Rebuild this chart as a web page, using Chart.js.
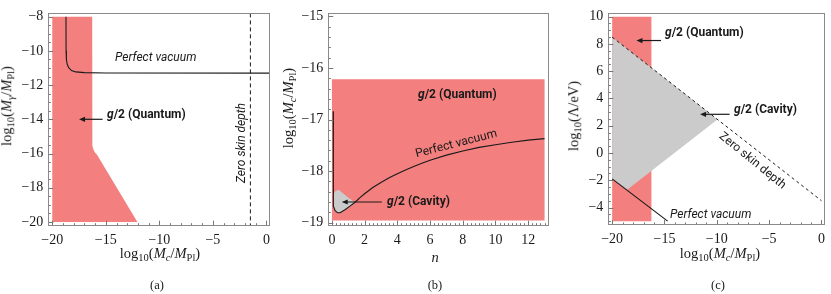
<!DOCTYPE html>
<html><head><meta charset="utf-8">
<script src="https://cdn.jsdelivr.net/npm/chart.js@4.4.1/dist/chart.umd.min.js"></script>
<style>
html,body{margin:0;padding:0;background:#fff;}
#wrap{position:relative;width:831px;height:294px;overflow:hidden;background:#fff;}
canvas{position:absolute;left:0;top:0;}
.t{position:absolute;white-space:nowrap;font-family:Roboto,"Noto Sans",sans-serif;font-size:12px;color:#1a1a1a;line-height:1;}
.lab{position:absolute;white-space:nowrap;font-family:"Liberation Serif","DejaVu Serif",serif;font-size:14.5px;color:#1a1a1a;line-height:1;}
.lab sub{font-size:10.5px;vertical-align:-3px;}
</style></head>
<body><div id="wrap">
<canvas id="ca" width="831" height="294"></canvas>
<canvas id="cb" width="831" height="294"></canvas>
<canvas id="cc" width="831" height="294"></canvas>

<!-- panel (a) texts -->
<div class="t" style="left:115px;top:57px;transform:translateY(-50%);font-style:italic;">Perfect vacuum</div>
<div class="t" style="left:107px;top:114px;transform:translateY(-50%);font-weight:bold;"><i>g</i>/2 (Quantum)</div>
<div class="t" style="left:241px;top:143px;transform:translate(-50%,-50%) rotate(-90deg);font-style:italic;">Zero skin depth</div>
<div class="lab" style="left:8px;top:106px;transform:translate(-50%,-50%) rotate(-90deg);">log<sub>10</sub>(<i>M</i><sub><i>γ</i></sub>/<i>M</i><sub>Pl</sub>)</div>
<div class="lab" style="left:160px;top:255px;transform:translate(-50%,-50%);">log<sub>10</sub>(<i>M</i><sub><i>c</i></sub>/<i>M</i><sub>Pl</sub>)</div>
<div class="lab" style="left:157px;top:285px;transform:translate(-50%,-50%);font-size:12.5px;">(a)</div>

<!-- panel (b) texts -->
<div class="t" style="left:418px;top:94px;transform:translateY(-50%);font-weight:bold;"><i>g</i>/2 (Quantum)</div>
<div class="t" style="left:456px;top:143px;transform:translate(-50%,-50%) rotate(-14.5deg);">Perfect vacuum</div>
<div class="t" style="left:387px;top:201px;transform:translateY(-50%);font-weight:bold;"><i>g</i>/2 (Cavity)</div>
<div class="lab" style="left:290px;top:108px;transform:translate(-50%,-50%) rotate(-90deg);">log<sub>10</sub>(<i>M</i><sub><i>c</i></sub>/<i>M</i><sub>Pl</sub>)</div>
<div class="lab" style="left:435px;top:257px;transform:translate(-50%,-50%);font-style:italic;">n</div>
<div class="lab" style="left:435px;top:285px;transform:translate(-50%,-50%);font-size:12.5px;">(b)</div>

<!-- panel (c) texts -->
<div class="t" style="left:665px;top:32px;transform:translateY(-50%);font-weight:bold;"><i>g</i>/2 (Quantum)</div>
<div class="t" style="left:734px;top:109px;transform:translateY(-50%);font-weight:bold;"><i>g</i>/2 (Cavity)</div>
<div class="t" style="left:753px;top:160px;transform:translate(-50%,-50%) rotate(39deg);">Zero skin depth</div>
<div class="t" style="left:670px;top:214px;transform:translateY(-50%);font-style:italic;">Perfect vacuum</div>
<div class="lab" style="left:575px;top:116px;transform:translate(-50%,-50%) rotate(-90deg);">log<sub>10</sub>(Λ/eV)</div>
<div class="lab" style="left:720px;top:255px;transform:translate(-50%,-50%);">log<sub>10</sub>(<i>M</i><sub><i>c</i></sub>/<i>M</i><sub>Pl</sub>)</div>
<div class="lab" style="left:718px;top:285px;transform:translate(-50%,-50%);font-size:12.5px;">(c)</div>
</div>
<script>
// ---------- Panel (a) data ----------
const aQuantumX = [-20, -16.27, -16.27, -16.24, -16.15, -16.0, -15.85, -12.05, -20];
const aQuantumY = [-8, -8, -15.3, -15.55, -15.78, -15.95, -16.05, -20, -20];
const aVacuumX  = [-18.72, -18.71, -18.68, -18.6, -18.45, -18.2, -17.8, -17.0, -15.0, 0.33];
const aVacuumY  = [-8, -10.0, -10.5, -10.8, -11.0, -11.15, -11.23, -11.27, -11.29, -11.3];
const aSkinX    = [-1.5, -1.5];
const aSkinY    = [-7.81, -20.22];
const aXTicks   = [-20, -15, -10, -5, 0];
const aYTicks   = [-8, -10, -12, -14, -16, -18, -20];

// ---------- Panel (b) data ----------
const bQuantumX = [0, 13, 13, 0];
const bQuantumY = [-16.22, -16.22, -18.96, -18.96];
const bCavityX  = [0.08, 0.2, 0.4, 0.6, 0.9, 1.4, 1.1, 0.8, 0.5, 0.35, 0.2, 0.1, 0.08];
const bCavityY  = [-18.45, -18.39, -18.36, -18.41, -18.49, -18.61, -18.68, -18.75, -18.81, -18.81, -18.77, -18.68, -18.55];
const bVacuumX  = [0.08, 0.08, 0.1, 0.2, 0.35, 0.5, 0.8, 1.1, 1.4, 1.7, 2, 2.5, 3, 3.5, 4, 4.5, 5, 5.5, 6, 7, 8, 9, 10, 11, 12, 13];
const bVacuumY  = [-16.84, -18.55, -18.68, -18.77, -18.81, -18.81, -18.75, -18.68, -18.61, -18.52, -18.44, -18.32, -18.22, -18.13, -18.05, -17.98, -17.91, -17.85, -17.79, -17.69, -17.61, -17.54, -17.49, -17.44, -17.40, -17.37];
const bXTicks   = [0, 2, 4, 6, 8, 10, 12];
const bYTicks   = [-15, -16, -17, -18, -19];

// ---------- Panel (c) data ----------
const cQuantumX = [-20, -16.25, -16.25, -20];
const cQuantumY = [10, 10, -5, -5];
const cCavityX  = [-20, -9.94, -18.6, -20];
const cCavityY  = [8.5, 2.46, -2.72, -1.9];
const cSkinX    = [-20, 0];
const cSkinY    = [8.5, -3.5];
const cVacuumX  = [-20, -14.7];
const cVacuumY  = [-1.9, -5.0];
const cXTicks   = [-20, -15, -10, -5, 0];
const cYTicks   = [10, 8, 6, 4, 2, 0, -2, -4];

const PINK = '#F47F7F';
const GREY = '#CBCBCB';
const W = 831, H = 294;

function pts(xs, ys){ return xs.map((x,i)=>({x, y:ys[i]})); }
function fmt(v){ return String(v).replace('-', '\u2212'); }
function range(a, b, step){ const r=[]; for(let v=a; v<=b+1e-9; v+=step) r.push(+v.toFixed(6)); return r; }

function shape(data, color, order){
  return {data, showLine:true, fill:'shape', backgroundColor:color, borderColor:'rgba(0,0,0,0)', borderWidth:0, pointRadius:0, tension:0, order};
}
function line(data, order, dash, width){
  return {data, showLine:true, fill:false, borderColor:'#1a1a1a', borderWidth:width||1.1, borderDash:dash||[], pointRadius:0, tension:0, order};
}

function makeChart(id, frame, xr, yr, datasets, xMajor, yMajor, xMinor, yMinor, arrows){
  const [L,T,R,B] = frame;
  const deco = {
    id:'deco',
    afterDraw(chart){
      const {ctx, chartArea:a, scales:{x,y}} = chart;
      ctx.save();
      ctx.strokeStyle = '#777'; ctx.lineWidth = 1;
      ctx.beginPath();
      xMinor.forEach(v=>{ const p=Math.round(x.getPixelForValue(v))+0.5; ctx.moveTo(p,a.bottom); ctx.lineTo(p,a.bottom-2.5); });
      yMinor.forEach(v=>{ const p=Math.round(y.getPixelForValue(v))+0.5; ctx.moveTo(a.left,p); ctx.lineTo(a.left+2.5,p); });
      xMajor.forEach(v=>{ const p=Math.round(x.getPixelForValue(v))+0.5; ctx.moveTo(p,a.bottom); ctx.lineTo(p,a.bottom-5); });
      yMajor.forEach(v=>{ const p=Math.round(y.getPixelForValue(v))+0.5; ctx.moveTo(a.left,p); ctx.lineTo(a.left+5,p); });
      ctx.stroke();
      ctx.strokeStyle = '#8a8a8a';
      ctx.strokeRect(Math.round(a.left)+0.5, Math.round(a.top)+0.5, Math.round(a.right)-Math.round(a.left)-1, Math.round(a.bottom)-Math.round(a.top)-1);
      // arrows
      ctx.strokeStyle = '#1a1a1a'; ctx.fillStyle = '#1a1a1a'; ctx.lineWidth = 1.2;
      arrows.forEach(([x0,y0,x1,y1])=>{
        const px0=x.getPixelForValue(x0), py0=y.getPixelForValue(y0), px1=x.getPixelForValue(x1), py1=y.getPixelForValue(y1);
        const ang=Math.atan2(py1-py0, px1-px0), hl=6, hw=2.6;
        ctx.beginPath(); ctx.moveTo(px0,py0); ctx.lineTo(px1-Math.cos(ang)*hl*0.8, py1-Math.sin(ang)*hl*0.8); ctx.stroke();
        ctx.beginPath(); ctx.moveTo(px1,py1);
        ctx.lineTo(px1-Math.cos(ang)*hl+Math.sin(ang)*hw, py1-Math.sin(ang)*hl-Math.cos(ang)*hw);
        ctx.lineTo(px1-Math.cos(ang)*hl-Math.sin(ang)*hw, py1-Math.sin(ang)*hl+Math.cos(ang)*hw);
        ctx.closePath(); ctx.fill();
      });
      ctx.restore();
    }
  };
  const tickFont = {family:'"Liberation Serif", "DejaVu Serif", serif', size:14};
  return new Chart(document.getElementById(id), {
    type:'scatter',
    data:{datasets},
    options:{
      responsive:false, animation:false, events:[],
      layout:{padding:{left:L-40, top:T, right:W-R, bottom:H-B-40}},
      plugins:{legend:{display:false}, tooltip:{enabled:false}},
      scales:{
        x:{type:'linear', min:xr[0], max:xr[1],
           afterBuildTicks:s=>{ s.ticks = xMajor.map(v=>({value:v})); },
           afterFit:s=>{ s.height = 40; },
           grid:{display:false, drawTicks:false}, border:{display:false},
           ticks:{padding:6, font:tickFont, color:'#1a1a1a', callback:fmt, maxRotation:0, autoSkip:false}},
        y:{type:'linear', min:yr[0], max:yr[1],
           afterBuildTicks:s=>{ s.ticks = yMajor.map(v=>({value:v})); },
           afterFit:s=>{ s.width = 40; },
           grid:{display:false, drawTicks:false}, border:{display:false},
           ticks:{padding:5, font:tickFont, color:'#1a1a1a', callback:fmt, autoSkip:false}}
      }
    },
    plugins:[deco]
  });
}

// Panel (a)
makeChart('ca', [48.3, 3.3, 270, 225.7], [-20.37, 0.33], [-20.22, -7.81], [
  line(pts(aVacuumX, aVacuumY), 1),
  line(pts(aSkinX, aSkinY), 2, [4,3], 1),
  shape(pts(aQuantumX, aQuantumY), PINK, 5)
], aXTicks, aYTicks, range(-20,0,1), range(-20,-8,0.5), [[-15.3,-14,-17.5,-14]]);

// Panel (b)
makeChart('cb', [328.3, 3.3, 549.3, 225.7], [-0.22, 13.29], [-19.06, -14.94], [
  line(pts(bVacuumX, bVacuumY), 1),
  shape(pts(bCavityX, bCavityY), GREY, 4),
  shape(pts(bQuantumX, bQuantumY), PINK, 5)
], bXTicks, bYTicks, range(0,13,0.25), range(-19,-15,0.2), [[3.05,-18.6,0.6,-18.6]]);

// Panel (c)
makeChart('cc', [608.3, 3.3, 828.5, 225], [-20.37, 0.33], [-5.28, 10.24], [
  line(pts(cVacuumX, cVacuumY), 1),
  line(pts(cSkinX, cSkinY), 2, [3,3], 1),
  shape(pts(cCavityX, cCavityY), GREY, 4),
  shape(pts(cQuantumX, cQuantumY), PINK, 5)
], cXTicks, cYTicks, range(-20,0,1), range(-5,10,0.5), [[-15.33,8.25,-17.68,8.25],[-8.78,2.84,-11.6,2.84]]);
</script>
</body></html>
